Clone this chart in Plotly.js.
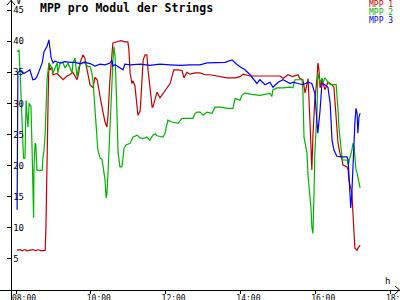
<!DOCTYPE html>
<html>
<head>
<meta charset="utf-8">
<script src="https://cdn.plot.ly/plotly-3.0.1.min.js"></script>
<style>html,body{margin:0;padding:0;background:#fff;}#chart{width:400px;height:300px;}</style>
</head>
<body>
<div id="chart"></div>
<script>
// ---- data (time in decimal hours, values in V) ----
const seriesNames = ["MPP 1", "MPP 2", "MPP 3"];

const mpp1Time = [8.03,8.11,8.16,8.24,8.29,8.37,8.45,8.53,8.59,8.67,8.78,8.80,8.82,8.83,8.86,8.88,8.91,8.96,8.99,9.10,9.18,9.26,9.36,9.44,9.52,9.63,9.68,9.71,9.79,9.84,9.90,9.93,9.98,10.06,10.11,10.17,10.19,10.25,10.30,10.33,10.38,10.43,10.46,10.51,10.57,10.59,10.70,10.81,10.91,10.99,11.02,11.05,11.10,11.13,11.18,11.24,11.26,11.32,11.37,11.40,11.45,11.50,11.53,11.58,11.64,11.66,11.72,11.77,11.85,11.93,12.04,12.12,12.17,12.22,12.33,12.44,12.49,12.57,12.65,12.79,12.92,13.05,13.19,13.45,13.64,13.86,13.99,14.07,14.26,14.44,14.52,14.79,15.06,15.14,15.27,15.40,15.54,15.59,15.67,15.73,15.78,15.81,15.86,15.91,15.94,15.99,16.05,16.07,16.10,16.13,16.18,16.26,16.34,16.45,16.50,16.53,16.58,16.61,16.66,16.72,16.74,16.85,16.88,16.90,16.98,17.01,17.04,17.06,17.12,17.14,17.20];
const mpp1Volt = [6.4,6.5,6.3,6.5,6.3,6.4,6.5,6.3,6.5,6.3,6.4,10.1,17.7,25.2,31.0,36.5,35.4,35.8,34.6,34.8,34.3,33.8,34.4,34.6,35.0,33.8,35.0,36.5,37.8,37.3,35.4,34.3,33.0,32.5,34.2,33.8,33.0,31.0,29.4,28.4,27.0,26.2,28.0,33.8,37.5,39.7,39.9,40.1,39.9,39.9,38.6,34.9,33.2,33.6,32.8,29.4,28.1,28.8,33.2,37.0,37.8,37.8,35.4,32.2,29.4,29.4,31.0,31.8,30.9,31.6,32.5,33.2,34.3,35.4,35.4,35.3,34.1,35.0,34.7,34.9,34.9,34.6,34.6,34.3,34.1,34.1,34.3,34.7,34.4,34.4,34.4,34.4,34.4,34.0,34.6,34.3,34.6,34.0,33.8,31.7,33.5,34.0,27.0,19.3,25.0,30.5,34.2,36.5,35.4,32.5,33.8,32.2,33.4,33.0,32.6,30.5,26.2,23.6,22.0,20.9,20.1,19.8,19.3,17.7,15.6,12.9,9.3,6.7,6.4,6.7,7.2];

const mpp2Time = [8.03,8.08,8.11,8.16,8.19,8.20,8.24,8.27,8.29,8.32,8.35,8.40,8.43,8.45,8.47,8.48,8.51,8.53,8.56,8.64,8.70,8.72,8.75,8.78,8.80,8.83,8.88,8.96,8.99,9.10,9.12,9.18,9.26,9.31,9.39,9.50,9.52,9.58,9.63,9.68,9.76,9.82,9.87,9.93,9.98,10.03,10.06,10.11,10.17,10.19,10.25,10.30,10.33,10.38,10.41,10.43,10.46,10.49,10.54,10.59,10.62,10.65,10.70,10.73,10.78,10.83,10.86,10.89,10.94,11.05,11.13,11.24,11.32,11.45,11.50,11.58,11.66,11.72,11.77,11.93,11.98,12.04,12.06,12.17,12.33,12.44,12.73,12.79,12.84,12.92,13.00,13.11,13.24,13.32,13.45,13.67,13.80,13.86,13.99,14.04,14.12,14.26,14.52,14.79,14.84,14.87,14.98,15.14,15.33,15.40,15.46,15.65,15.67,15.70,15.78,15.81,15.89,15.91,15.94,15.97,15.99,16.05,16.07,16.13,16.18,16.21,16.26,16.32,16.40,16.56,16.58,16.61,16.64,16.69,16.72,16.74,16.85,16.88,16.93,16.98,17.01,17.04,17.06,17.09,17.12,17.17,17.20];
const mpp2Volt = [38.3,38.6,35.0,28.4,23.6,21.2,21.2,30.5,28.5,26.2,30.0,29.5,22.5,14.5,11.6,19.3,23.6,23.4,19.3,19.2,19.3,21.2,22.5,25.2,28.4,33.8,36.5,35.7,34.9,36.5,34.9,36.5,36.5,35.7,36.5,34.9,36.5,37.3,34.3,35.9,36.5,36.7,36.2,35.9,35.9,34.9,33.5,28.4,24.1,22.5,21.2,21.0,19.6,17.7,14.8,15.4,18.8,23.0,31.0,36.7,39.1,37.5,28.4,22.0,19.8,19.8,21.2,22.8,23.3,23.6,24.6,24.9,24.4,24.4,24.6,24.1,24.9,25.1,24.8,24.6,25.1,26.8,27.3,27.0,26.8,27.6,27.6,28.4,28.6,28.6,28.1,28.6,28.4,29.4,29.4,29.2,29.2,30.8,30.5,31.3,31.7,31.5,31.3,31.6,31.1,32.2,32.5,32.5,32.6,32.5,33.8,33.8,32.2,24.6,22.0,18.2,12.9,10.1,9.1,16.0,22.0,28.9,34.9,33.4,34.1,33.4,34.1,33.6,33.0,33.0,31.6,28.9,25.7,22.5,21.2,20.9,20.9,20.1,21.2,22.5,23.6,23.0,21.5,19.3,18.8,17.4,16.4];

const mpp3Time = [8.03,8.04,8.05,8.11,8.21,8.32,8.37,8.45,8.51,8.56,8.61,8.70,8.75,8.83,8.88,8.94,8.99,9.04,9.18,9.31,9.44,9.58,9.71,9.84,9.98,10.11,10.25,10.38,10.51,10.57,10.59,10.65,10.86,10.91,11.05,11.32,11.58,11.85,12.12,12.39,12.65,12.92,13.11,13.32,13.59,13.78,13.86,13.99,14.12,14.26,14.44,14.52,14.66,14.79,14.87,15.01,15.14,15.33,15.41,15.54,15.67,15.81,15.91,15.99,16.07,16.13,16.18,16.26,16.34,16.40,16.45,16.50,16.58,16.74,16.85,16.88,16.90,16.93,16.95,16.98,17.01,17.04,17.06,17.09,17.12,17.14,17.17,17.20];
const mpp3Volt = [12.9,21.4,35.0,35.2,34.8,35.2,35.4,33.8,33.9,34.3,35.2,36.5,38.3,39.2,40.2,37.3,36.5,36.8,36.5,36.7,36.6,36.6,36.4,36.6,36.4,36.0,36.3,36.2,36.5,36.9,36.0,36.2,35.4,36.3,36.2,36.3,36.1,36.3,36.2,36.1,36.2,36.2,36.5,36.5,36.6,37.0,36.5,35.9,35.4,34.6,33.2,33.8,33.0,33.4,32.6,33.4,33.8,33.2,33.4,33.2,33.0,33.4,33.2,31.6,25.2,28.9,33.2,33.0,32.6,30.0,24.1,22.5,21.5,21.4,21.4,20.9,18.8,15.6,13.2,15.6,20.9,23.6,26.8,29.2,28.4,25.2,27.8,28.4];

const xTickVals = [8, 10, 12, 14, 16, 18];
const xTickText = ["08:00", "10:00", "12:00", "14:00", "16:00", "18:00"];
const yTickVals = [5, 10, 15, 20, 25, 30, 35, 40, 45];
const chartTitle = "MPP pro Modul der Strings";
const yUnit = "V";
const xUnit = "h";

// ---- styles ----
const colors = ["#c00000", "#00b400", "#0000ff"];
const mono = "DejaVu Sans Mono";

const traces = [
  [mpp1Time, mpp1Volt],
  [mpp2Time, mpp2Volt],
  [mpp3Time, mpp3Volt]
].map((d, i) => ({
  type: "scatter", mode: "lines", name: seriesNames[i],
  x: d[0], y: d[1],
  line: {color: colors[i], width: 1.2},
  hoverinfo: "skip"
}));

const W = 400, H = 300;
const px = v => v / W, py = v => 1 - v / H;

const legendAnn = seriesNames.map((n, i) => ({
  text: n, xref: "paper", yref: "paper",
  x: px(395), y: py(4.5 + i * 8), xanchor: "right", yanchor: "middle",
  showarrow: false, font: {family: mono, size: 8, color: colors[i]}
}));

const layout = {
  width: W, height: H,
  margin: {l: 0, r: 0, t: 0, b: 0, pad: 0},
  paper_bgcolor: "#ffffff", plot_bgcolor: "#ffffff",
  showlegend: false,
  title: {text: chartTitle, x: px(40), xanchor: "left", xref: "paper",
          y: 1 - 7.5 / H, yanchor: "middle", yref: "container",
          font: {family: mono, size: 11.5, color: "#000", weight: "bold"}},
  xaxis: {
    range: [7.572, 18.267], domain: [0, 1], anchor: "free", position: 10 / H,
    showline: true, linecolor: "#000", linewidth: 1,
    ticks: "outside", ticklen: 3, tickcolor: "#000", tickwidth: 1,
    tickvals: xTickVals, ticktext: xTickText,
    tickfont: {family: mono, size: 8, color: "#000"},
    ticklabelshift: 8, ticklabelstandoff: -3, ticklabeloverflow: "allow",
    showgrid: false, zeroline: false, automargin: false, fixedrange: true
  },
  yaxis: {
    range: [-1.608, 46.62], domain: [0, 1], anchor: "free", position: 11 / W,
    showline: true, linecolor: "#000", linewidth: 1,
    ticks: "outside", ticklen: 4, tickcolor: "#000", tickwidth: 1,
    tickvals: yTickVals, ticklabelposition: "inside", ticklabeloverflow: "allow",
    tickfont: {family: mono, size: 9, color: "#000"},
    showgrid: false, zeroline: false, automargin: false, fixedrange: true
  },
  shapes: [
    {type: "path", xref: "paper", yref: "paper",
     path: `M ${px(7)} ${py(5)} L ${px(11)} ${py(0.5)} L ${px(15)} ${py(5)}`,
     line: {color: "#000", width: 1}},
    {type: "path", xref: "paper", yref: "paper",
     path: `M ${px(395)} ${py(286)} L ${px(399.5)} ${py(290)} L ${px(395)} ${py(294)}`,
     line: {color: "#000", width: 1}}
  ],
  annotations: legendAnn.concat([
    {text: yUnit, xref: "paper", yref: "paper", x: px(14), y: py(1), xanchor: "left", yanchor: "middle",
     showarrow: false, font: {family: mono, size: 9, color: "#000"}},
    {text: xUnit, xref: "paper", yref: "paper", x: px(387), y: py(281), xanchor: "center", yanchor: "middle",
     showarrow: false, font: {family: mono, size: 9, color: "#000"}}
  ])
};

Plotly.newPlot("chart", traces, layout, {staticPlot: true, displayModeBar: false});
</script>
</body>
</html>
